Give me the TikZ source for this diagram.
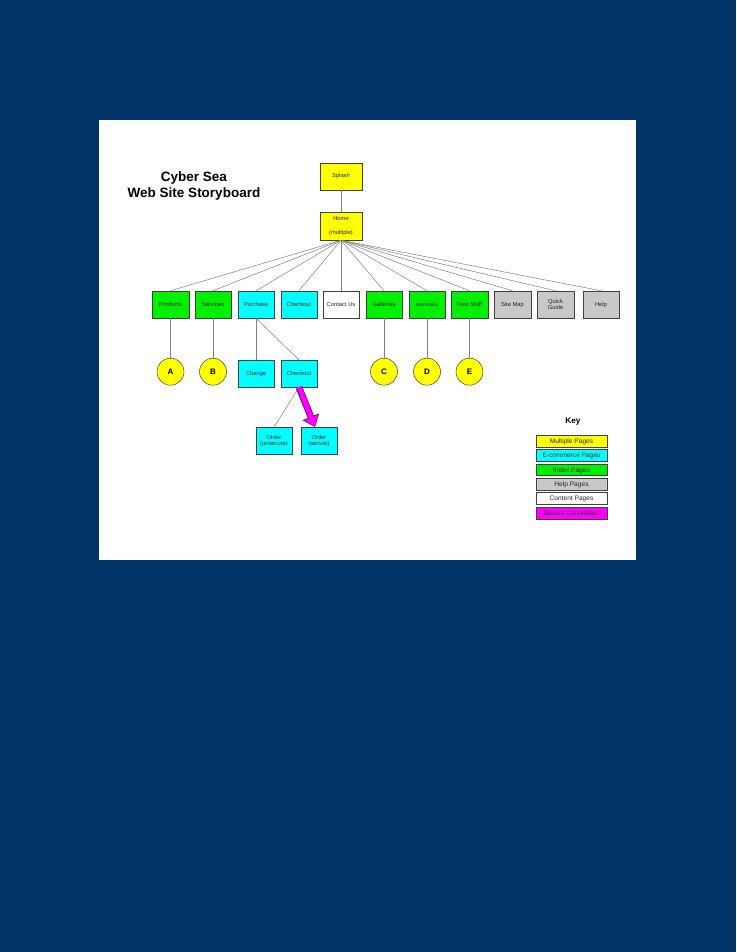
\documentclass[tikz,border=0pt]{standalone}
\usepackage{fontspec}
\setmainfont{Liberation Sans}
\usetikzlibrary{arrows.meta}
\definecolor{navy}{HTML}{003366}
\definecolor{pageyellow}{HTML}{FFFF00}
\definecolor{pagecyan}{HTML}{00FFFF}
\definecolor{pagegreen}{HTML}{00F000}
\definecolor{pagegray}{HTML}{C8C8C8}
\definecolor{securepink}{HTML}{FF00FF}
\tikzset{
  page/.style={draw=black!75,line width=0.5pt,minimum width=36.5pt,minimum height=27pt,
    inner sep=0pt,align=center,text=black!85,font=\fontsize{5.8}{6.5}\selectfont},
  letter/.style={circle,draw=black!75,fill=pageyellow,line width=0.5pt,minimum size=27pt,
    inner sep=0pt,font=\fontsize{8}{9}\selectfont\bfseries},
  keybox/.style={draw=black!75,line width=0.5pt,minimum width=71.5pt,minimum height=11.7pt,
    inner sep=0pt,text height=4.7pt,text depth=0pt,text=black!85,font=\fontsize{6.6}{7}\selectfont},
  link/.style={draw=black!50,line width=0.5pt}
}
\begin{document}
\begin{tikzpicture}[x=1pt,y=-1pt]
\fill[navy] (0,0) rectangle (736,952);
\fill[white] (99,120) rectangle (636,560);
\useasboundingbox (0,0) rectangle (736,952);
% title
\node[align=center,font=\fontsize{13.5}{16}\selectfont\bfseries] (title) at (194,186)
  {Cyber Sea\\Web Site Storyboard};
% top
\node[page,fill=pageyellow,minimum width=42pt] (splash) at (341,176.5) {Splash};
\node[page,fill=pageyellow,minimum width=42pt,minimum height=28pt] (home) at (341,226)
  {Home\\[7pt](multiple)};
\draw[link] (splash) -- (home);
% main row
\node[page,fill=pagegreen] (products) at (170.5,304.5) {Products};
\node[page,fill=pagegreen] (services) at (213,304.5) {Services};
\node[page,fill=pagecyan] (purchase) at (256,304.5) {Purchase};
\node[page,fill=pagecyan] (checkout) at (299,304.5) {Checkout};
\node[page,fill=white] (contact) at (341,304.5) {Contact Us};
\node[page,fill=pagegreen] (galleries) at (384,304.5) {Galleries};
\node[page,fill=pagegreen,font=\fontsize{4.6}{5}\selectfont] (info) at (427,304.5) {Information};
\node[page,fill=pagegreen] (free) at (469.5,304.5) {Free Stuff};
\node[page,fill=pagegray] (sitemap) at (512.5,304.5) {Site Map};
\node[page,fill=pagegray] (quick) at (555.5,304.5) {Quick\\Guide};
\node[page,fill=pagegray] (help) at (601,304.5) {Help};
\foreach \n in {products,services,purchase,checkout,contact,galleries,info,free,sitemap,quick,help}
  \draw[link] (home.south) -- (\n.north);
% second row
\node[letter] (a) at (170.5,371.7) {A};
\node[letter] (b) at (213,371.7) {B};
\node[page,fill=pagecyan] (change) at (256,373.7) {Change};
\node[page,fill=pagecyan] (checkout2) at (299,373.7) {Checkout};
\node[letter] (c) at (384,371.7) {C};
\node[letter] (d) at (427,371.7) {D};
\node[letter] (e) at (469.5,371.7) {E};
\draw[link] (products) -- (a);
\draw[link] (services) -- (b);
\draw[link] (purchase) -- (change);
\draw[link] (purchase.south) -- (checkout2.north);
\draw[link] (galleries) -- (c);
\draw[link] (info) -- (d);
\draw[link] (free) -- (e);
% orders
\node[page,fill=pagecyan] (unsecure) at (274,440.8) {Order\\(unsecure)};
\node[page,fill=pagecyan] (secure) at (319,440.8) {Order\\(secure)};
\draw[link] (checkout2.south) -- (unsecure.north);
\draw[draw=violet!70!black,line width=6.6pt,-{Triangle[width=17pt,length=11pt]}]
  (checkout2.south) -- ([xshift=-4pt]secure.north);
\draw[securepink,line width=5pt,shorten >=1pt,-{Triangle[width=14.5pt,length=9.3pt]}]
  ([yshift=0.6pt]checkout2.south) -- ([xshift=-4pt]secure.north);
% key
\node[font=\fontsize{8.2}{9}\selectfont\bfseries] (key) at (573,422) {Key};
\node[keybox,fill=pageyellow] (k1) at (571.5,441) {Multiple Pages};
\node[keybox,fill=pagecyan] (k2) at (571.5,455.2) {E-commerce Pages};
\node[keybox,fill=pagegreen] (k3) at (571.5,469.7) {Index Pages};
\node[keybox,fill=pagegray] (k4) at (571.5,484.1) {Help Pages};
\node[keybox,fill=white] (k5) at (571.5,498.5) {Content Pages};
\node[keybox,fill=securepink] (k6) at (571.5,512.9) {Secure Connection};
\end{tikzpicture}
\end{document}
